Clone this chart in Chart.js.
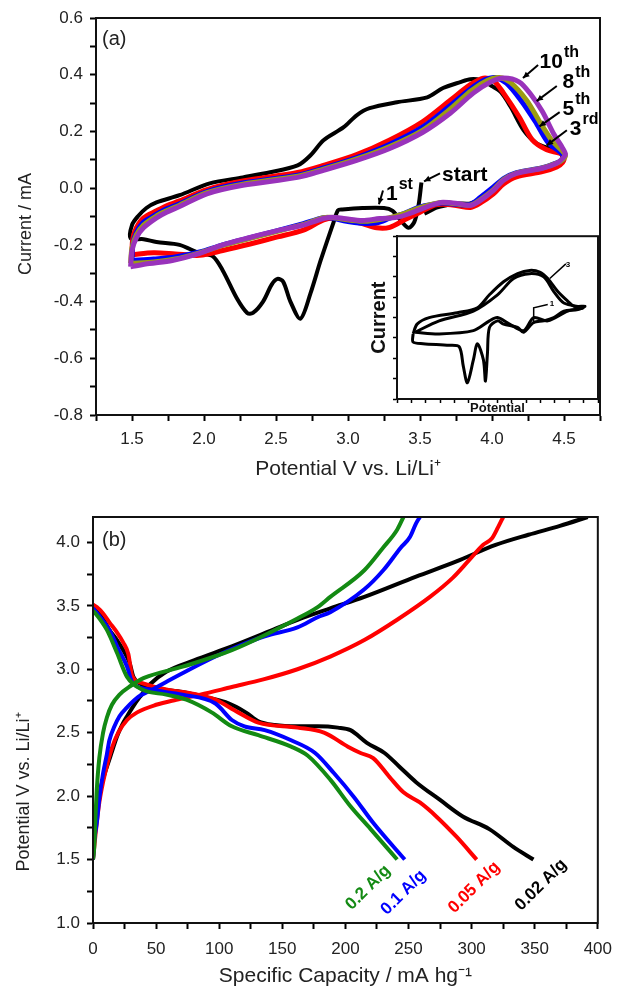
<!DOCTYPE html>
<html>
<head>
<meta charset="utf-8">
<script src="https://cdn.jsdelivr.net/npm/chart.js@4.4.1/dist/chart.umd.min.js"></script>
<style>
  body { margin: 0; background: #fff; }
  #wrap { position: relative; width: 622px; height: 996px; }
  canvas { position: absolute; }
</style>
</head>
<body>
<div id="wrap">
  <canvas id="cvA" width="622" height="496" style="left:0;top:0"></canvas>
  <canvas id="cvIn" width="242" height="192" style="left:360px;top:226px"></canvas>
  <canvas id="cvB" width="622" height="500" style="left:0;top:496px"></canvas>
</div>
<script>
// (a) cyclic voltammograms: potential (V) and current (mA) for each cycle
const cycle1V = [3.51, 3.49, 3.46, 3.42, 3.36, 3.31, 3.25, 3.10, 2.96, 2.93, 2.90, 2.81, 2.74, 2.67, 2.60, 2.55, 2.51, 2.47, 2.41, 2.34, 2.30, 2.23, 2.13, 2.06, 1.97, 1.83, 1.67, 1.58, 1.49, 1.50, 1.54, 1.60, 1.67, 1.83, 2.04, 2.27, 2.46, 2.65, 2.74, 2.83, 2.97, 3.06, 3.15, 3.34, 3.55, 3.66, 3.78, 3.85, 3.92, 3.99, 4.06, 4.13, 4.22, 4.31, 4.40, 4.47, 4.49, 4.47, 4.40, 4.26, 4.13, 4.03, 3.94, 3.85, 3.76, 3.69, 3.62, 3.53];
const cycle1I = [0.02, -0.06, -0.12, -0.14, -0.11, -0.08, -0.07, -0.07, -0.075, -0.078, -0.12, -0.255, -0.37, -0.46, -0.40, -0.33, -0.32, -0.34, -0.40, -0.44, -0.44, -0.39, -0.29, -0.24, -0.23, -0.20, -0.19, -0.18, -0.177, -0.13, -0.10, -0.07, -0.05, -0.025, 0.017, 0.038, 0.056, 0.08, 0.116, 0.169, 0.215, 0.257, 0.282, 0.303, 0.32, 0.353, 0.374, 0.384, 0.381, 0.363, 0.339, 0.286, 0.204, 0.158, 0.14, 0.127, 0.105, 0.088, 0.07, 0.056, 0.038, 0.01, -0.033, -0.054, -0.054, -0.06, -0.068, -0.09];

const cycle3V = [1.50, 1.505, 1.53, 1.58, 1.67, 1.74, 1.83, 2.02, 2.27, 2.65, 2.83, 3.06, 3.29, 3.52, 3.71, 3.85, 3.94, 4.01, 4.08, 4.19, 4.28, 4.38, 4.47, 4.50, 4.49, 4.45, 4.35, 4.17, 4.08, 4.01, 3.92, 3.85, 3.76, 3.66, 3.60, 3.50, 3.40, 3.29, 3.20, 3.10, 2.97, 2.90, 2.83, 2.69, 2.51, 2.32, 2.13, 1.97, 1.80, 1.65, 1.50];
const cycle3I = [-0.235, -0.18, -0.14, -0.105, -0.08, -0.062, -0.045, -0.005, 0.025, 0.055, 0.08, 0.118, 0.17, 0.235, 0.31, 0.365, 0.388, 0.38, 0.335, 0.25, 0.17, 0.135, 0.123, 0.11, 0.09, 0.075, 0.058, 0.04, 0.015, -0.02, -0.052, -0.068, -0.062, -0.057, -0.06, -0.085, -0.11, -0.138, -0.14, -0.125, -0.11, -0.105, -0.112, -0.148, -0.172, -0.197, -0.22, -0.237, -0.232, -0.228, -0.235];

const cycle5V = [1.50, 1.505, 1.53, 1.58, 1.67, 1.74, 1.83, 2.02, 2.27, 2.65, 2.83, 3.06, 3.29, 3.52, 3.70, 3.85, 3.95, 4.02, 4.10, 4.20, 4.30, 4.39, 4.47, 4.50, 4.49, 4.45, 4.35, 4.17, 4.08, 4.01, 3.92, 3.85, 3.76, 3.66, 3.60, 3.50, 3.40, 3.29, 3.20, 3.10, 2.97, 2.90, 2.83, 2.69, 2.51, 2.32, 2.13, 1.97, 1.80, 1.65, 1.50];
const cycle5I = [-0.255, -0.2, -0.157, -0.12, -0.092, -0.073, -0.055, -0.012, 0.018, 0.046, 0.071, 0.108, 0.155, 0.216, 0.287, 0.35, 0.382, 0.39, 0.37, 0.31, 0.235, 0.16, 0.128, 0.112, 0.1, 0.089, 0.072, 0.055, 0.034, 0.004, -0.032, -0.057, -0.058, -0.052, -0.056, -0.066, -0.087, -0.106, -0.122, -0.124, -0.115, -0.106, -0.104, -0.125, -0.15, -0.175, -0.2, -0.225, -0.243, -0.25, -0.255];

const cycle8V = [1.49, 1.50, 1.53, 1.58, 1.67, 1.74, 1.83, 2.02, 2.27, 2.65, 2.83, 3.06, 3.29, 3.52, 3.70, 3.86, 3.97, 4.05, 4.13, 4.24, 4.33, 4.42, 4.48, 4.51, 4.49, 4.45, 4.35, 4.17, 4.08, 4.01, 3.92, 3.85, 3.76, 3.66, 3.60, 3.50, 3.40, 3.29, 3.20, 3.10, 2.97, 2.90, 2.83, 2.69, 2.51, 2.32, 2.13, 1.97, 1.80, 1.65, 1.49];
const cycle8I = [-0.265, -0.21, -0.165, -0.13, -0.098, -0.08, -0.06, -0.016, 0.014, 0.042, 0.067, 0.103, 0.147, 0.205, 0.275, 0.345, 0.38, 0.39, 0.372, 0.31, 0.235, 0.165, 0.135, 0.115, 0.1, 0.088, 0.071, 0.053, 0.03, -0.005, -0.04, -0.06, -0.056, -0.051, -0.055, -0.069, -0.088, -0.104, -0.112, -0.117, -0.11, -0.104, -0.104, -0.128, -0.152, -0.177, -0.202, -0.228, -0.25, -0.26, -0.265];

const cycle10V = [1.49, 1.50, 1.53, 1.58, 1.67, 1.74, 1.83, 2.02, 2.27, 2.65, 2.83, 3.06, 3.29, 3.52, 3.71, 3.87, 3.99, 4.08, 4.19, 4.27, 4.35, 4.43, 4.48, 4.51, 4.49, 4.45, 4.35, 4.17, 4.08, 4.01, 3.92, 3.85, 3.76, 3.66, 3.62, 3.52, 3.43, 3.34, 3.22, 3.10, 2.97, 2.90, 2.83, 2.69, 2.51, 2.32, 2.13, 1.97, 1.78, 1.62, 1.49];
const cycle10I = [-0.277, -0.22, -0.175, -0.14, -0.105, -0.085, -0.065, -0.02, 0.01, 0.038, 0.063, 0.098, 0.14, 0.197, 0.264, 0.335, 0.374, 0.388, 0.374, 0.33, 0.27, 0.19, 0.15, 0.12, 0.105, 0.088, 0.07, 0.052, 0.028, -0.008, -0.043, -0.061, -0.054, -0.05, -0.054, -0.071, -0.089, -0.103, -0.107, -0.114, -0.107, -0.103, -0.107, -0.13, -0.15, -0.174, -0.20, -0.23, -0.255, -0.266, -0.277];

const cvXLabels = [1.5, 2.0, 2.5, 3.0, 3.5, 4.0, 4.5];
const cvYLabels = [-0.8, -0.6, -0.4, -0.2, 0.0, 0.2, 0.4, 0.6];

// inset (arbitrary units, no tick labels)
const insetAX = [0.8, 1.0, 1.6, 3.0, 4.0, 4.6, 5.3, 6.0, 6.6, 7.1, 7.5, 8.0, 8.5, 8.8, 9.35, 9.0, 8.3, 7.8, 7.3, 6.8, 6.3, 6.0, 5.3, 5.0, 4.6, 4.5, 4.4, 4.3, 4.0, 3.8, 3.5, 3.3, 3.1, 2.6, 1.3, 0.8, 0.8];
const insetAY = [4.0, 4.6, 5.0, 5.3, 5.6, 6.4, 7.2, 7.7, 7.9, 7.8, 7.4, 6.6, 6.0, 5.7, 5.7, 5.5, 5.4, 5.0, 4.8, 4.7, 4.1, 4.4, 4.6, 4.8, 4.4, 2.8, 1.1, 2.4, 3.4, 2.4, 1.0, 2.0, 3.2, 3.3, 3.4, 3.5, 4.0];
const insetBX = [0.9, 2.1, 3.8, 5.0, 5.8, 6.6, 7.3, 7.8, 8.3, 9.25, 8.5, 7.5, 6.8, 6.3, 5.6, 5.0, 4.6, 3.8, 2.1, 0.9];
const insetBY = [4.1, 4.8, 5.4, 6.4, 7.4, 7.7, 7.5, 6.6, 5.9, 5.6, 5.4, 4.8, 5.0, 4.2, 4.6, 5.0, 4.8, 4.2, 4.0, 4.1];

// (b) charge / discharge curves: capacity (mAh/g) and potential (V)
const cap002C = [0, 1, 2, 4, 7, 11, 15, 19, 23, 27, 32, 37, 45, 58, 80, 110, 140, 162, 188, 215, 256, 288, 319, 345, 370, 392];
const volt002C = [1.5, 1.72, 1.85, 1.95, 2.10, 2.23, 2.35, 2.47, 2.56, 2.63, 2.71, 2.78, 2.88, 2.98, 3.07, 3.18, 3.30, 3.39, 3.48, 3.57, 3.73, 3.85, 3.98, 4.06, 4.13, 4.2];
const cap002D = [0, 3, 6, 13, 19, 24, 29, 32, 37, 50, 71, 89, 105, 121, 131, 144, 162, 178, 194, 204, 217, 231, 243, 256, 275, 293, 314, 333, 349];
const volt002D = [3.5, 3.47, 3.43, 3.31, 3.23, 3.15, 3.05, 2.94, 2.89, 2.85, 2.82, 2.78, 2.74, 2.66, 2.59, 2.56, 2.55, 2.55, 2.54, 2.52, 2.42, 2.34, 2.23, 2.11, 1.97, 1.84, 1.74, 1.60, 1.50];

const cap005C = [0, 1, 2, 5, 10, 15, 20, 27, 35, 50, 66, 85, 110, 135, 162, 188, 215, 241, 267, 285, 298, 309, 316, 321, 325];
const volt005C = [1.5, 1.6, 1.7, 1.95, 2.2, 2.38, 2.5, 2.6, 2.66, 2.72, 2.76, 2.80, 2.86, 2.92, 3.00, 3.10, 3.23, 3.39, 3.57, 3.72, 3.86, 3.98, 4.03, 4.12, 4.2];
const cap005D = [0, 3, 8, 13, 19, 24, 28, 31, 39, 58, 78, 97, 115, 131, 162, 183, 202, 212, 222, 235, 246, 259, 272, 288, 304];
const volt005D = [3.51, 3.49, 3.44, 3.37, 3.29, 3.21, 3.12, 2.95, 2.89, 2.84, 2.81, 2.76, 2.66, 2.58, 2.54, 2.50, 2.39, 2.34, 2.30, 2.15, 2.03, 1.95, 1.84, 1.68, 1.50];

const cap01C = [0, 1, 3, 5, 8, 11, 13, 17, 21, 27, 31, 37, 45, 58, 75, 97, 115, 136, 162, 178, 188, 215, 230, 244, 251, 256, 259];
const volt01C = [1.5, 1.65, 1.79, 1.98, 2.18, 2.33, 2.44, 2.55, 2.63, 2.70, 2.74, 2.79, 2.83, 2.90, 2.99, 3.10, 3.18, 3.26, 3.33, 3.41, 3.45, 3.63, 3.78, 3.96, 4.04, 4.15, 4.2];
const cap01D = [0, 5, 13, 20, 27, 31, 45, 71, 97, 110, 120, 136, 157, 176, 191, 207, 222, 247];
const volt01D = [3.48, 3.42, 3.31, 3.16, 3.02, 2.90, 2.84, 2.80, 2.73, 2.60, 2.55, 2.52, 2.44, 2.34, 2.18, 1.99, 1.79, 1.50];

const cap02C = [0, 1, 2, 3, 5, 8, 11, 15, 21, 30, 40, 71, 110, 162, 178, 188, 215, 230, 241, 246];
const volt02C = [1.5, 1.6, 1.85, 2.05, 2.3, 2.5, 2.62, 2.72, 2.80, 2.87, 2.93, 3.02, 3.15, 3.40, 3.49, 3.57, 3.78, 3.96, 4.10, 4.2];
const cap02D = [0, 2, 11, 19, 27, 39, 58, 74, 94, 110, 131, 157, 170, 188, 204, 220, 241];
const volt02D = [3.46, 3.44, 3.31, 3.13, 2.94, 2.84, 2.80, 2.76, 2.66, 2.55, 2.48, 2.39, 2.32, 2.13, 1.92, 1.74, 1.50];

const gcdXLabels = [0, 50, 100, 150, 200, 250, 300, 350, 400];
const gcdYLabels = [1.0, 1.5, 2.0, 2.5, 3.0, 3.5, 4.0];

const FONT = '"Liberation Sans", Arial, sans-serif';
Chart.defaults.font.family = FONT;
Chart.defaults.color = '#222';

function pts(xs, ys) {
    return xs.map((x, i) => ({ x: x, y: ys[i] }));
}

function curve(xs, ys, color, width, order, mono) {
    return {
        data: pts(xs, ys),
        borderColor: color,
        borderWidth: width,
        showLine: true,
        pointRadius: 0,
        tension: 0.3,
        cubicInterpolationMode: mono ? 'monotone' : 'default',
        order: order
    };
}

function fmt(v, dec) {
    return (Math.abs(v) < 1e-9 ? 0 : v).toFixed(dec);
}

function axis(o) {
    return {
        type: 'linear',
        min: o.min,
        max: o.max,
        afterFit: s => { if (s.isHorizontal()) s.height = o.size; else s.width = o.size; },
        border: { display: true, color: '#000', width: 2 },
        grid: { drawOnChartArea: false, drawTicks: true, tickLength: o.tl || 6, tickColor: '#000', tickWidth: o.tw || 2 },
        ticks: {
            stepSize: o.step,
            includeBounds: false,
            autoSkip: false,
            maxRotation: 0,
            padding: o.pad || 0,
            color: '#222',
            font: { size: 17 },
            callback: v => (o.labels || []).some(t => Math.abs(t - v) < 1e-6) ? fmt(v, o.dec) : ''
        },
        title: { display: !!o.title, text: o.title || '', color: o.tcolor || '#222', font: o.tfont || { size: 21 }, padding: o.tpad }
    };
}

// box around the plot area
const frame = {
    id: 'frame',
    afterDraw(c) {
        const a = c.chartArea, ctx = c.ctx;
        ctx.save();
        ctx.strokeStyle = '#111';
        ctx.lineWidth = 2;
        ctx.strokeRect(a.left, a.top, a.right - a.left, a.bottom - a.top);
        ctx.restore();
    }
};

// rotated y-axis title at a given centre
function yTitle(ctx, text, cx, cy) {
    ctx.save();
    ctx.translate(cx, cy);
    ctx.rotate(-Math.PI / 2);
    ctx.font = '18px ' + FONT;
    ctx.fillStyle = '#222';
    ctx.textAlign = 'center';
    ctx.textBaseline = 'middle';
    ctx.fillText(text, 0, 0);
    ctx.restore();
}

function arrow(ctx, x1, y1, x2, y2) {
    const a = Math.atan2(y2 - y1, x2 - x1), h = 7;
    ctx.beginPath();
    ctx.moveTo(x1, y1);
    ctx.lineTo(x2, y2);
    ctx.stroke();
    ctx.beginPath();
    ctx.moveTo(x2, y2);
    ctx.lineTo(x2 - h * Math.cos(a - 0.45), y2 - h * Math.sin(a - 0.45));
    ctx.lineTo(x2 - h * Math.cos(a + 0.45), y2 - h * Math.sin(a + 0.45));
    ctx.closePath();
    ctx.fill();
}

// cycle labels with arrows on panel (a)
const cvNotes = {
    id: 'cvNotes',
    afterDatasetsDraw(c) {
        const ctx = c.ctx, x = c.scales.x, y = c.scales.y;
        const P = p => [x.getPixelForValue(p[0]), y.getPixelForValue(p[1])];
        ctx.save();
        ctx.fillStyle = '#000';
        ctx.strokeStyle = '#000';
        ctx.lineWidth = 2;
        ctx.textBaseline = 'alphabetic';
        ctx.textAlign = 'left';
        const notes = [
            { t: '10', s: 'th', at: [4.33, 0.423], from: [4.32, 0.434], to: [4.215, 0.388] },
            { t: '8', s: 'th', at: [4.49, 0.353], from: [4.45, 0.36], to: [4.31, 0.307] },
            { t: '5', s: 'th', at: [4.49, 0.257], from: [4.47, 0.268], to: [4.33, 0.218] },
            { t: '3', s: 'rd', at: [4.54, 0.187], from: [4.52, 0.204], to: [4.38, 0.151] },
            { t: '1', s: 'st', at: [3.264, -0.043], from: [3.243, -0.008], to: [3.215, -0.057] },
            { t: 'start', s: '', at: [3.653, 0.024], from: [3.639, 0.052], to: [3.528, 0.024] }
        ];
        notes.forEach(n => {
            const [tx, ty] = P(n.at);
            ctx.font = 'bold 21px ' + FONT;
            ctx.fillText(n.t, tx, ty);
            const w = ctx.measureText(n.t).width;
            if (n.s) {
                ctx.font = 'bold 16px ' + FONT;
                ctx.fillText(n.s, tx + w + 1, ty - 11);
            }
            const [ax, ay] = P(n.from), [bx, by] = P(n.to);
            arrow(ctx, ax, ay, bx, by);
        });
        ctx.font = '20px ' + FONT;
        ctx.fillStyle = '#222';
        ctx.fillText('(a)', c.chartArea.left + 6, c.chartArea.top + 27);
        ctx.restore();
        yTitle(ctx, 'Current / mA', 26, 224);
    }
};

new Chart(document.getElementById('cvA'), {
    type: 'scatter',
    data: {
        datasets: [
            curve(cycle10V, cycle10I, '#9933bb', 5, 1),
            curve(cycle8V, cycle8I, '#9c9c12', 5, 2),
            curve(cycle5V, cycle5I, '#0000ff', 5, 3),
            curve(cycle3V, cycle3I, '#ff0000', 5, 4),
            curve(cycle1V, cycle1I, '#000000', 4, 5)
        ]
    },
    options: {
        responsive: false,
        animation: false,
        events: [],
        layout: { padding: { top: 18, right: 22, left: 0, bottom: 0 } },
        plugins: { legend: { display: false }, tooltip: { enabled: false } },
        scales: {
            x: axis({ min: 1.25, max: 4.75, step: 0.25, labels: cvXLabels, dec: 1, size: 81, pad: 8,
                      title: 'Potential V vs. Li/Li\u207A', tpad: { top: 0, bottom: 14 } }),
            y: axis({ min: -0.8, max: 0.6, step: 0.1, labels: cvYLabels, dec: 1, size: 96, pad: 7 })
        }
    },
    plugins: [frame, cvNotes]
});

// inset: white box + tiny marks
const insetBg = {
    id: 'insetBg',
    beforeDraw(c) {
        const a = c.chartArea, ctx = c.ctx;
        ctx.save();
        ctx.fillStyle = '#fff';
        ctx.fillRect(a.left, a.top, a.right - a.left, a.bottom - a.top);
        ctx.restore();
    },
    afterDatasetsDraw(c) {
        const ctx = c.ctx, x = c.scales.x, y = c.scales.y;
        ctx.save();
        ctx.strokeStyle = '#000';
        ctx.fillStyle = '#000';
        ctx.lineWidth = 1.5;
        ctx.beginPath();
        ctx.moveTo(x.getPixelForValue(7.6), y.getPixelForValue(7.4));
        ctx.lineTo(x.getPixelForValue(8.4), y.getPixelForValue(8.3));
        ctx.moveTo(x.getPixelForValue(6.8), y.getPixelForValue(4.6));
        ctx.lineTo(x.getPixelForValue(6.8), y.getPixelForValue(5.6));
        ctx.lineTo(x.getPixelForValue(7.5), y.getPixelForValue(5.8));
        ctx.stroke();
        ctx.font = 'bold 8px ' + FONT;
        ctx.fillText('3', x.getPixelForValue(8.4), y.getPixelForValue(8.1));
        ctx.fillText('1', x.getPixelForValue(7.6), y.getPixelForValue(5.7));
        ctx.restore();
    }
};

new Chart(document.getElementById('cvIn'), {
    type: 'scatter',
    data: {
        datasets: [
            curve(insetAX, insetAY, '#000', 3, 1),
            curve(insetBX, insetBY, '#000', 3, 2)
        ]
    },
    options: {
        responsive: false,
        animation: false,
        events: [],
        layout: { padding: { top: 5, right: 4, left: 0, bottom: 0 } },
        plugins: { legend: { display: false }, tooltip: { enabled: false } },
        scales: {
            x: axis({ min: 0, max: 10, step: 10 / 14, size: 19, tl: 4, tw: 1.5,
                      title: 'Potential', tcolor: '#111', tfont: { size: 13, weight: 'bold' }, tpad: { top: 0, bottom: 2 } }),
            y: axis({ min: 0, max: 10, step: 1.25, size: 37, tl: 4, tw: 1.5,
                      title: 'Current', tcolor: '#111', tfont: { size: 20, weight: 'bold' }, tpad: { top: 7, bottom: 0 } })
        }
    },
    plugins: [insetBg, frame]
});

// rate labels on panel (b)
const rateNotes = {
    id: 'rateNotes',
    afterDatasetsDraw(c) {
        const ctx = c.ctx, x = c.scales.x, y = c.scales.y;
        ctx.save();
        ctx.font = 'bold 17px ' + FONT;
        ctx.textAlign = 'center';
        ctx.textBaseline = 'middle';
        [
            ['0.2 A/g', '#138a13', 218, 1.28],
            ['0.1 A/g', '#0000ff', 246, 1.24],
            ['0.05 A/g', '#ff0000', 302, 1.28],
            ['0.02 A/g', '#000000', 355, 1.30]
        ].forEach(r => {
            ctx.save();
            ctx.translate(x.getPixelForValue(r[2]), y.getPixelForValue(r[3]));
            ctx.rotate(-Math.PI / 4);
            ctx.fillStyle = r[1];
            ctx.fillText(r[0], 0, 0);
            ctx.restore();
        });
        ctx.font = '20px ' + FONT;
        ctx.fillStyle = '#222';
        ctx.textAlign = 'left';
        ctx.textBaseline = 'alphabetic';
        ctx.fillText('(b)', c.chartArea.left + 9, c.chartArea.top + 29);
        ctx.restore();
        yTitle(ctx, 'Potential V vs. Li/Li\u207A', 24, 296);
    }
};

new Chart(document.getElementById('cvB'), {
    type: 'scatter',
    data: {
        datasets: [
            curve(cap02C, volt02C, '#138a13', 4, 1, true),
            curve(cap02D, volt02D, '#138a13', 4, 1, true),
            curve(cap01C, volt01C, '#0000ff', 4, 2, true),
            curve(cap01D, volt01D, '#0000ff', 4, 2, true),
            curve(cap005C, volt005C, '#ff0000', 4, 3, true),
            curve(cap005D, volt005D, '#ff0000', 4, 3, true),
            curve(cap002C, volt002C, '#000000', 4, 4, true),
            curve(cap002D, volt002D, '#000000', 4, 4, true)
        ]
    },
    options: {
        responsive: false,
        animation: false,
        events: [],
        layout: { padding: { top: 21, right: 19, left: 0, bottom: 0 } },
        plugins: { legend: { display: false }, tooltip: { enabled: false } },
        scales: {
            x: axis({ min: 0, max: 400, step: 25, labels: gcdXLabels, dec: 0, size: 73, pad: 10,
                      title: 'Specific Capacity / mA hg\u207B\u00B9', tpad: { top: 0, bottom: 7 } }),
            y: axis({ min: 1.0, max: 4.2, step: 0.25, labels: gcdYLabels, dec: 1, size: 93, pad: 7 })
        }
    },
    plugins: [frame, rateNotes]
});
</script>
</body>
</html>
